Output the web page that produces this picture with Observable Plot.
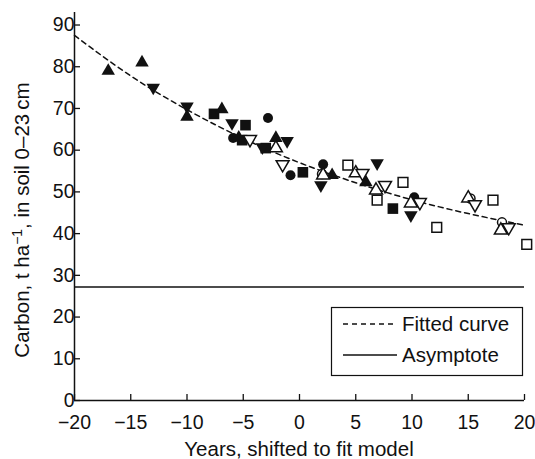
<!DOCTYPE html>
<html><head><meta charset="utf-8">
<script src="https://cdn.jsdelivr.net/npm/d3@7"></script>
<script src="https://cdn.jsdelivr.net/npm/@observablehq/plot@0.6"></script>
<style>body{margin:0;background:#fff}</style>
</head><body><div id="chart"></div>
<script>
const xTicks = [-20, -15, -10, -5, 0, 5, 10, 15, 20];
const yTicks = [0, 10, 20, 30, 40, 50, 60, 70, 80, 90];
const asymptote = 27.2;
// fitted curve [year, carbon]
const fittedCurve = [[-20, 87.5], [-15, 77.8], [-10, 69.7], [-5, 62.8], [0, 57], [5, 52.2], [10, 48.1], [15, 44.8], [20, 42]];
// observations [year, carbon]
const filledUp = [[-17, 79], [-14, 81], [-10, 68], [-6.9, 69.8], [-5.4, 63], [-2.1, 62.9], [2.9, 54], [5.9, 52.3]];
const filledDown = [[-13, 75], [-10, 70.5], [-6, 66.5], [-3.3, 60.7], [-1.1, 62.2], [1.9, 51.6], [6.9, 56.9], [9.9, 44.4]];
const filledCircle = [[-5.9, 62.9], [-2.8, 67.7], [-0.8, 54], [2.1, 56.6], [10.2, 48.7]];
const filledSquare = [[-7.6, 68.7], [-4.8, 66], [-5.1, 62.4], [-3, 60.5], [0.3, 54.7], [8.3, 46]];
const openUp = [[-2.1, 60.5], [2.1, 54], [5, 54.5], [6.8, 50.4], [9.9, 47.3], [15, 48.5], [17.9, 40.8]];
const openDown = [[-4.4, 62.6], [-1.5, 56.6], [5.6, 54.5], [7.6, 51.6], [10.7, 47.5], [15.6, 47], [18.6, 41.5]];
const openCircle = [[2, 54.3], [15.2, 48.4], [18, 42.7]];
const openSquare = [[4.3, 56.4], [6.9, 48], [9.2, 52.3], [12.2, 41.5], [17.2, 48], [20.2, 37.4]];

const ink = "#111";
const font = "'Liberation Sans', Arial, Helvetica, sans-serif";
const X = d => d[0], Y = d => d[1];
const filled = (data, symbol, r, rotate = 0) => Plot.dot(data, {x: X, y: Y, symbol, r, rotate, fill: ink, stroke: "none"});
const open = (data, symbol, r, rotate = 0) => Plot.dot(data, {x: X, y: Y, symbol, r, rotate, fill: "white", stroke: ink, strokeWidth: 1.5});

const plot = Plot.plot({
  width: 535, height: 459,
  marginLeft: 74, marginRight: 11, marginTop: 12, marginBottom: 59,
  style: {fontSize: "19.5px", fontFamily: font, color: ink, background: "white"},
  x: {domain: [-20, 20], ticks: xTicks, label: null},
  y: {domain: [0, 93], ticks: yTicks, label: null},
  marks: [
    Plot.axisX({ticks: xTicks, tickSize: -6, tickPadding: 21, label: null, stroke: ink, strokeWidth: 1.3}),
    Plot.axisY({ticks: yTicks, tickSize: -6, tickPadding: 6, label: null, stroke: ink, strokeWidth: 1.3}),
    Plot.ruleY([asymptote], {stroke: ink, strokeWidth: 1.5}),
    Plot.line(fittedCurve, {x: X, y: Y, curve: "natural", stroke: ink, strokeWidth: 1.5, strokeDasharray: "5,4"}),
    filled(filledCircle, "circle", 5),
    filled(filledSquare, "square", 6),
    filled(filledUp, "triangle", 5),
    filled(filledDown, "triangle", 5, 180),
    open(openCircle, "circle", 4.5),
    open(openSquare, "square", 5.5),
    open(openUp, "triangle", 4.8),
    open(openDown, "triangle", 4.8, 180),
    Plot.ruleX([-20], {stroke: ink, strokeWidth: 1.5}),
    Plot.ruleY([0], {stroke: ink, strokeWidth: 1.5})
  ]
});
document.getElementById("chart").append(plot);

const svg = d3.select(plot);
// y-axis title
const yt = svg.append("text")
  .attr("transform", "translate(29,220) rotate(-90)")
  .attr("text-anchor", "middle").attr("fill", ink)
  .style("font-family", font).style("font-size", "20.5px");
yt.append("tspan").text("Carbon, t ha");
yt.append("tspan").attr("dy", -7).style("font-size", "14px").text("\u22121");
yt.append("tspan").attr("dy", 7).text(", in soil 0\u201323\u2009cm");
// x-axis title
svg.append("text").attr("x", 299).attr("y", 456).attr("text-anchor", "middle").attr("fill", ink)
  .style("font-family", font).style("font-size", "20.5px").text("Years, shifted to fit model");
// legend
const lg = svg.append("g");
lg.append("rect").attr("x", 331.5).attr("y", 307.5).attr("width", 191).attr("height", 68)
  .attr("fill", "white").attr("stroke", ink).attr("stroke-width", 1.2);
lg.append("line").attr("x1", 343).attr("x2", 397).attr("y1", 324).attr("y2", 324)
  .attr("stroke", ink).attr("stroke-width", 1.5).attr("stroke-dasharray", "5,4");
lg.append("line").attr("x1", 343).attr("x2", 397).attr("y1", 355).attr("y2", 355)
  .attr("stroke", ink).attr("stroke-width", 1.5);
lg.append("text").attr("x", 402).attr("y", 331).attr("fill", ink).attr("text-anchor", "start")
  .style("font-family", font).style("font-size", "20.5px").text("Fitted curve");
lg.append("text").attr("x", 402).attr("y", 362).attr("fill", ink).attr("text-anchor", "start")
  .style("font-family", font).style("font-size", "20.5px").text("Asymptote");
</script></body></html>
